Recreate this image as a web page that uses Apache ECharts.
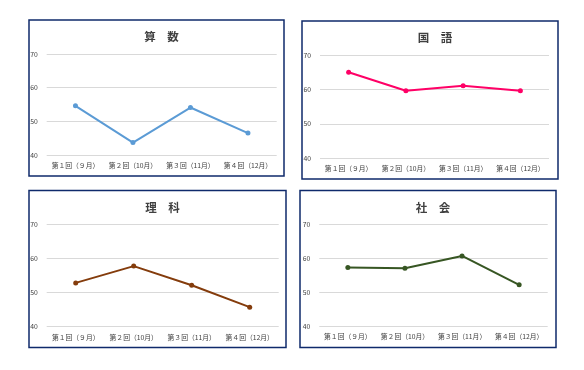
<!DOCTYPE html>
<html><head><meta charset="utf-8">
<script src="https://cdn.jsdelivr.net/npm/echarts@6/dist/echarts.min.js"></script>
<style>html,body{margin:0;padding:0;background:#fff}#c{width:584px;height:370px}</style>
</head><body><div id="c"></div>
<script>
const categories = ['第１回（９月）','第２回（10月）','第３回（11月）','第４回（12月）'];
const yTicks = [40, 50, 60, 70];
const titles = ['算　数','国　語','理　科','社　会'];
const sansu = [54.6, 43.7, 54.1, 46.5];
const kokugo = [65.0, 59.6, 61.1, 59.6];
const rika = [52.8, 57.7, 52.1, 45.7];
const shakai = [57.2, 57.0, 60.6, 52.1];
const seriesData = [sansu, kokugo, rika, shakai];
const colors = ['#5B9BD5', '#FF0066', '#843C0C', '#375623'];

// panel layout: border box and plot box
const panels = [
  {bx:29, by:20, bw:255, bh:156, gl:46.7, gt:54, gw:230, gh:101},
  {bx:302, by:21, bw:256, bh:158, gl:320, gt:55, gw:229, gh:103.3},
  {bx:29, by:190.5, bw:257, bh:157, gl:46.7, gt:224, gw:232, gh:102.7},
  {bx:300, by:190.5, bw:256, bh:157, gl:319.3, gt:224, gw:228.4, gh:102}
];
const font = '"Noto Sans CJK JP", "Noto Sans", sans-serif';
const option = {
  animation:false,
  backgroundColor:'#fff',
  title:[], grid:[], xAxis:[], yAxis:[], series:[],
  graphic:[]
};
panels.forEach((p,i)=>{
  option.graphic.push({type:'rect', shape:{x:p.bx, y:p.by, width:p.bw, height:p.bh},
    style:{fill:'none', stroke:'#0F2A6B', lineWidth:1.5}, z:-1});
  option.title.push({text:titles[i], left:p.bx+p.bw/2, top:p.by+6, textAlign:'center',
    textStyle:{fontSize:11.5, fontWeight:'bold', color:'#404040', fontFamily:font}});
  option.grid.push({left:p.gl, top:p.gt, width:p.gw, height:p.gh, containLabel:false});
  option.xAxis.push({type:'category', gridIndex:i, data:categories, boundaryGap:true,
    axisLine:{show:false}, axisTick:{show:false},
    axisLabel:{fontSize:6.8, color:'#404040', margin:7, fontFamily:font, interval:0}});
  option.yAxis.push({type:'value', gridIndex:i, min:yTicks[0], max:yTicks[yTicks.length-1], interval:10,
    axisLine:{show:false}, axisTick:{show:false},
    axisLabel:{fontSize:6.8, color:'#404040', margin:9, fontFamily:font},
    splitLine:{lineStyle:{color:'#D9D9D9', width:1}}});
  option.series.push({type:'line', xAxisIndex:i, yAxisIndex:i, data:seriesData[i],
    symbol:'circle', symbolSize:5, itemStyle:{color:colors[i]},
    lineStyle:{color:colors[i], width:2}});
});
const chart = echarts.init(document.getElementById('c'), null, {renderer:'canvas'});
chart.setOption(option);
</script></body></html>
